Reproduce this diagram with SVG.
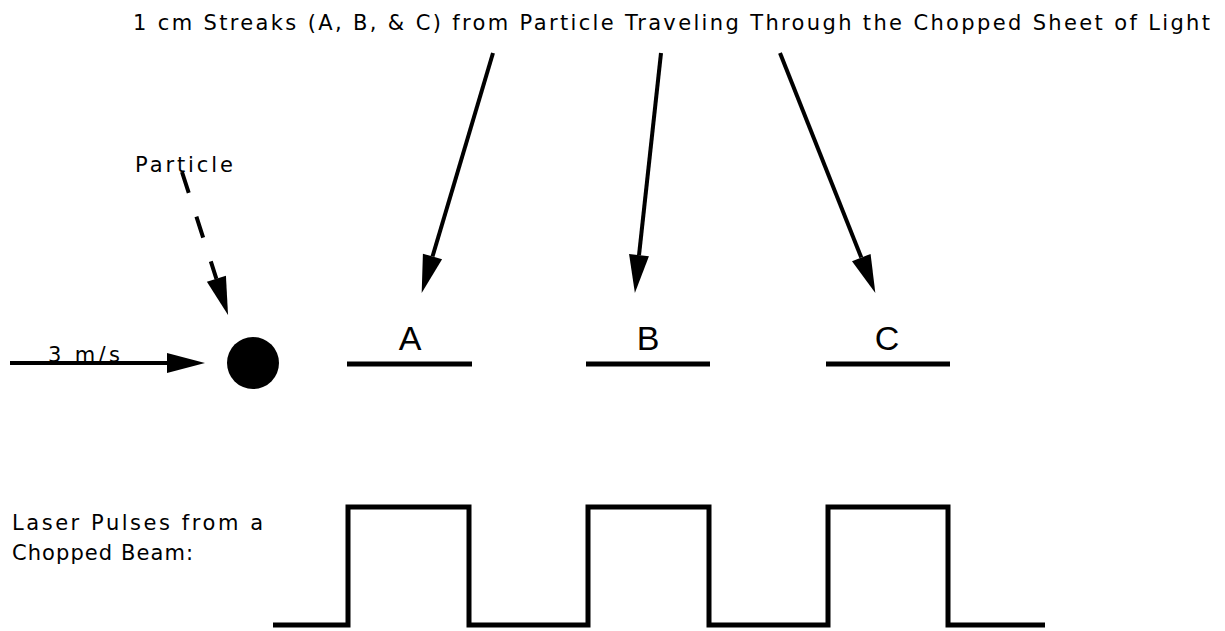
<svg xmlns="http://www.w3.org/2000/svg" width="1225" height="631" viewBox="0 0 1225 631">
<style>
text{font-family:"DejaVu Sans","Liberation Sans",Arial,sans-serif;fill:#000}
.lbl{font-size:21px}
.big{font-size:34px;text-anchor:middle;font-family:"Liberation Sans",Arial,sans-serif}
.ln{stroke:#000;stroke-width:4;fill:none}
.dash{stroke-dasharray:22 25}
.streak{stroke:#000;stroke-width:5}
.pulse{stroke:#000;stroke-width:5;fill:none;stroke-linejoin:miter}
</style>
<defs>
<marker id="ah" markerUnits="userSpaceOnUse" markerWidth="40" markerHeight="22" refX="0" refY="10" orient="auto" overflow="visible">
<path d="M0,0 L38,10 L0,20 Z" fill="#000"/>
</marker>
</defs>
<g id="title"><text class="lbl" x="133" y="30" textLength="1077" lengthAdjust="spacing">1 cm Streaks (A, B, &amp; C) from Particle Traveling Through the Chopped Sheet of Light</text></g>
<g id="particle-label"><text class="lbl" x="135" y="172" textLength="98" lengthAdjust="spacing">Particle</text></g>
<g id="particle"><circle cx="253" cy="363" r="26" fill="#000"/></g>
<g id="speed-label"><text class="lbl" x="48" y="362" textLength="72" lengthAdjust="spacing">3 m/s</text></g>
<g id="streak-a"><line class="streak" x1="347" y1="364" x2="472" y2="364"/><text class="big" x="410" y="350">A</text></g>
<g id="streak-b"><line class="streak" x1="586" y1="364" x2="710" y2="364"/><text class="big" x="648" y="350">B</text></g>
<g id="streak-c"><line class="streak" x1="826" y1="364" x2="950" y2="364"/><text class="big" x="887" y="350">C</text></g>
<g id="laser-label"><text class="lbl" x="12" y="530" textLength="251" lengthAdjust="spacing">Laser Pulses from a</text><text class="lbl" x="12" y="560" textLength="181" lengthAdjust="spacing">Chopped Beam:</text></g>
<g id="pulses"><path class="pulse" d="M273,625 H348 V507 H469 V625 H588 V507 H709 V625 H828 V507 H948 V625 H1045"/></g>
<g id="connectors">
<line class="ln" x1="493" y1="53" x2="432.5" y2="256.5" marker-end="url(#ah)"/>
<line class="ln" x1="661" y1="53" x2="639" y2="255.2" marker-end="url(#ah)"/>
<line class="ln" x1="780" y1="53" x2="861.3" y2="257.6" marker-end="url(#ah)"/>
<line class="ln dash" x1="182" y1="172" x2="216.4" y2="278.8" marker-end="url(#ah)"/>
<line class="ln" x1="10" y1="363" x2="167" y2="363" marker-end="url(#ah)"/>
</g>
</svg>
